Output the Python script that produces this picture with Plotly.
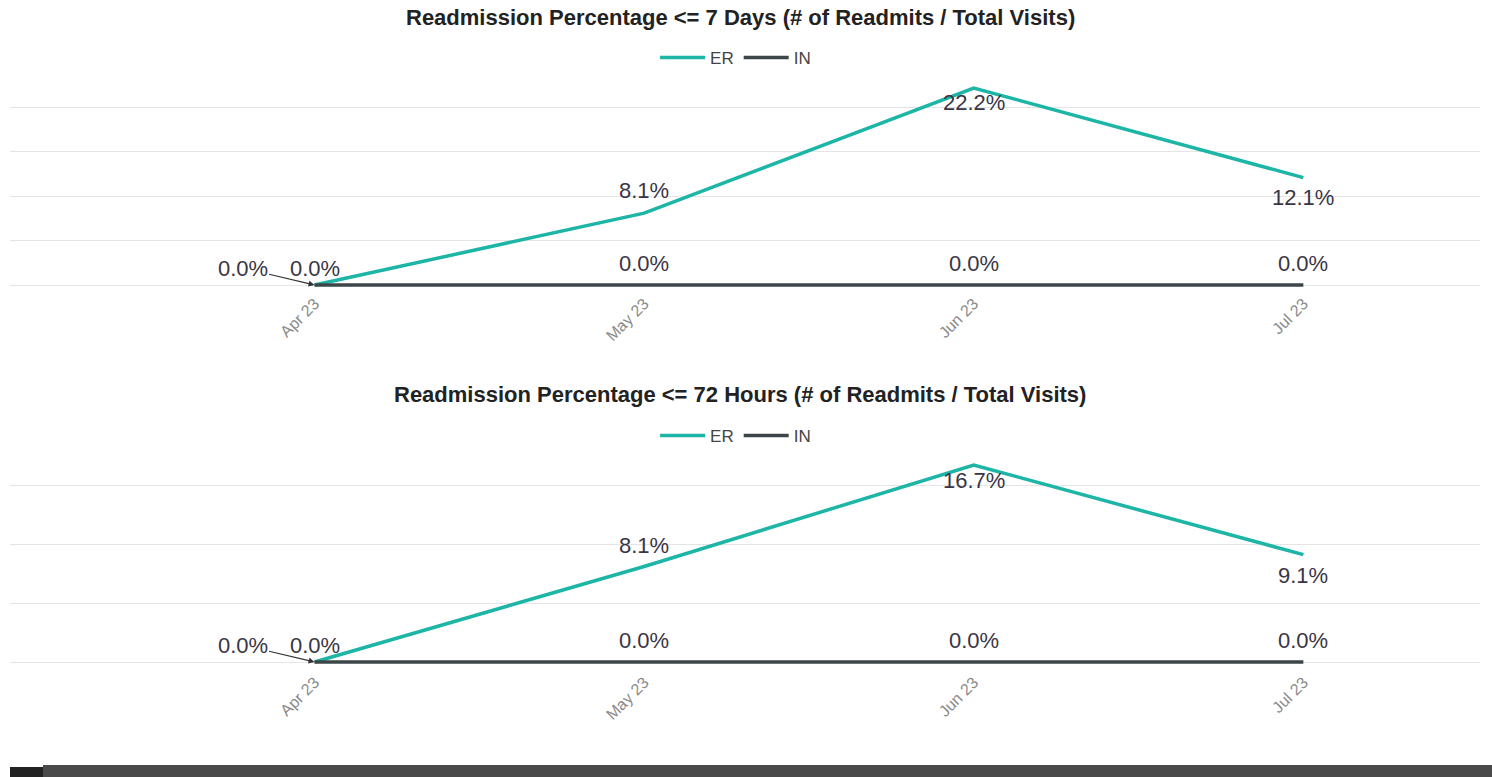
import plotly.graph_objects as go

months = ["Apr 23", "May 23", "Jun 23", "Jul 23"]
er_7d = [0.0, 8.1, 22.2, 12.1]
in_7d = [0.0, 0.0, 0.0, 0.0]
er_72h = [0.0, 8.1, 16.7, 9.1]
in_72h = [0.0, 0.0, 0.0, 0.0]
titles = ["Readmission Percentage <= 7 Days (# of Readmits / Total Visits)",
          "Readmission Percentage <= 72 Hours (# of Readmits / Total Visits)"]

ER_COLOR = "#1cb5a6"
IN_COLOR = "#3c4649"
TXT = "#3a3545"
W, H = 1492, 777
FONT = "Liberation Sans, Arial, sans-serif"
LBL = 22

fig = go.Figure()

def ypx(px):
    return 1 - px / H

panels = [
    dict(er=er_7d, inn=in_7d, base=285, xa="x", ya="y", legend="legend",
         er_shift=[0, 23, -14, -20], in_shift=[17, 22, 22, 22], title_y=18, leg_y=58),
    dict(er=er_72h, inn=in_72h, base=662, xa="x2", ya="y2", legend="legend2",
         er_shift=[0, 21, -15, -21], in_shift=[17, 22, 22, 22], title_y=395, leg_y=436),
]

xdom = [10 / W, 1480 / W]
xrange = [-0.924, 3.536]

for i, p in enumerate(panels):
    peak = max(p["er"])
    ppu = 197.0 / peak
    lo, hi = -0.6, peak + 0.9
    top_px = p["base"] - hi * ppu
    bot_px = p["base"] - lo * ppu
    dom = [ypx(bot_px), ypx(top_px)]
    fig.add_trace(go.Scatter(x=months, y=p["er"], mode="lines", name="ER",
                             line=dict(color=ER_COLOR, width=3.5),
                             xaxis=p["xa"], yaxis=p["ya"], legend=p["legend"],
                             cliponaxis=False, legendrank=1))
    fig.add_trace(go.Scatter(x=months, y=p["inn"], mode="lines", name="IN",
                             line=dict(color=IN_COLOR, width=3.5),
                             xaxis=p["xa"], yaxis=p["ya"], legend=p["legend"],
                             cliponaxis=False, legendrank=2))
    axname = "xaxis" if i == 0 else "xaxis2"
    yname = "yaxis" if i == 0 else "yaxis2"
    fig.update_layout(**{
        axname: dict(domain=xdom, range=xrange, type="category", anchor=p["ya"],
                     showgrid=False, showline=False, zeroline=False, ticks="",
                     tickangle=-45, tickfont=dict(size=16, color="#8a8a8a", family=FONT)),
        yname: dict(domain=dom, range=[lo, hi], anchor=p["xa"], showticklabels=False,
                    showgrid=True, gridcolor="#e4e4e4", gridwidth=1, dtick=5, tick0=0,
                    zeroline=True, zerolinecolor="#e4e4e4", zerolinewidth=1),
        p["legend"]: dict(orientation="h", x=0.493, xanchor="center", y=ypx(p["leg_y"]),
                          yanchor="middle", font=dict(size=17, color="#444", family=FONT),
                          bgcolor="rgba(0,0,0,0)", traceorder="normal", itemwidth=45),
    })
    # data labels
    for k, m in enumerate(months):
        if k > 0:
            fig.add_annotation(text=f"{p['er'][k]:.1f}%", x=m, y=p["er"][k],
                               xref=p["xa"], yref=p["ya"], showarrow=False,
                               yshift=p["er_shift"][k],
                               font=dict(size=LBL, color=TXT, family=FONT))
        fig.add_annotation(text=f"{p['inn'][k]:.1f}%", x=m, y=p["inn"][k],
                           xref=p["xa"], yref=p["ya"], showarrow=False,
                           yshift=p["in_shift"][k],
                           font=dict(size=LBL, color=TXT, family=FONT))
    # title
    fig.add_annotation(text=f"<b>{titles[i]}</b>", xref="paper", yref="paper",
                       x=0.496, y=ypx(p["title_y"]), showarrow=False, yanchor="middle",
                       font=dict(size=22, color="#222", family=FONT))
    # ER Apr label with leader arrow
    fig.add_annotation(text=f"{p['er'][0]:.1f}%", x=months[0], y=p["er"][0],
                       xref=p["xa"], yref=p["ya"], showarrow=True, arrowhead=2,
                       arrowsize=1, arrowwidth=1.2, arrowcolor="#333",
                       ax=-72, ay=-17, font=dict(size=LBL, color=TXT, family=FONT))

# bottom dark bar
fig.add_shape(type="rect", xref="paper", yref="paper", x0=10 / W, x1=43 / W,
              y0=0, y1=ypx(767), fillcolor="#222222", line=dict(width=0))
fig.add_shape(type="rect", xref="paper", yref="paper", x0=43 / W, x1=1,
              y0=0, y1=ypx(765), fillcolor="#4a4a4a", line=dict(width=0))

fig.update_layout(width=W, height=H, margin=dict(l=0, r=0, t=0, b=0),
                  paper_bgcolor="white", plot_bgcolor="white",
                  font=dict(family=FONT), showlegend=True)

fig.write_html("out.html", config={"displayModeBar": False},
               post_script="document.body.style.margin='0';document.body.style.overflow='hidden';")
